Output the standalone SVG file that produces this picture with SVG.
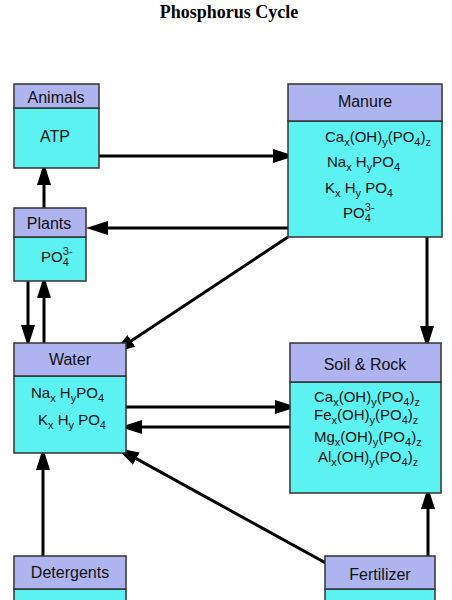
<svg xmlns="http://www.w3.org/2000/svg" width="452" height="600" viewBox="0 0 452 600">
<style>
.hd{fill:#aeb4f0;stroke:#333;stroke-width:1.5}
.bd{fill:#5cf2f2;stroke:#333;stroke-width:1.5}
.t{font-family:"Liberation Sans",Arial,sans-serif;font-size:16px;fill:#111}
.c{text-anchor:middle}
.f{font-family:"Liberation Sans",Arial,sans-serif;font-size:15px;fill:#111}
.s{font-size:11px}
.ln{stroke:#000;stroke-width:3;fill:none;marker-end:url(#ah)}
.title{font-family:"Liberation Serif","Times New Roman",serif;font-weight:bold;font-size:18px;text-anchor:middle;fill:#000}
</style>
<defs>
<marker id="ah" markerUnits="userSpaceOnUse" markerWidth="22" markerHeight="14" refX="14" refY="7" orient="auto">
<path d="M0,0 L22,7 L0,14 z" fill="#000"/>
</marker>
</defs>
<rect width="452" height="600" fill="#fff"/>
<text class="title" x="229" y="18">Phosphorus Cycle</text>

<g id="connectors">
<line class="ln" x1="99" y1="156" x2="287" y2="156"/>
<line class="ln" x1="288" y1="228" x2="94" y2="228"/>
<line class="ln" x1="288" y1="237" x2="119.7" y2="348.6"/>
<line class="ln" x1="427" y1="237" x2="427" y2="340"/>
<line class="ln" x1="44" y1="208" x2="44" y2="171"/>
<line class="ln" x1="28" y1="281" x2="28" y2="339"/>
<line class="ln" x1="44" y1="343" x2="44" y2="284"/>
<line class="ln" x1="126" y1="407" x2="289" y2="407"/>
<line class="ln" x1="290" y1="427" x2="128" y2="427"/>
<line class="ln" x1="333" y1="567" x2="124" y2="451.9"/>
<line class="ln" x1="43" y1="556" x2="43" y2="456"/>
<line class="ln" x1="428" y1="556" x2="428" y2="495"/>
</g>

<g id="animals">
<rect class="bd" x="14" y="108" width="85" height="60"/>
<rect class="hd" x="14" y="84" width="85" height="24"/>
<text class="t c" x="56" y="103">Animals</text>
<text class="t c" x="55" y="142">ATP</text>
</g>

<g id="plants">
<rect class="bd" x="14" y="237" width="72" height="44"/>
<rect class="hd" x="14" y="208" width="72" height="29"/>
<text class="t c" x="49" y="229">Plants</text>
<text class="f" x="41" y="262">PO<tspan class="s" dy="4">4</tspan><tspan class="s" dx="-6" dy="-11">3-</tspan></text>
</g>

<g id="manure">
<rect class="bd" x="288" y="121" width="154" height="116"/>
<rect class="hd" x="288" y="84" width="154" height="37"/>
<text class="t c" x="365" y="107">Manure</text>
<text class="f" x="325" y="142">Ca<tspan class="s" dy="4">x</tspan><tspan dy="-4">(OH)</tspan><tspan class="s" dy="4">y</tspan><tspan dy="-4">(PO</tspan><tspan class="s" dy="4">4</tspan><tspan dy="-4">)</tspan><tspan class="s" dy="4">z</tspan></text>
<text class="f" x="327" y="167">Na<tspan class="s" dy="4">x</tspan><tspan dy="-4"> H</tspan><tspan class="s" dy="4">y</tspan><tspan dy="-4">PO</tspan><tspan class="s" dy="4">4</tspan></text>
<text class="f" x="325" y="193">K<tspan class="s" dy="4">x</tspan><tspan dy="-4"> H</tspan><tspan class="s" dy="4">y</tspan><tspan dy="-4"> PO</tspan><tspan class="s" dy="4">4</tspan></text>
<text class="f" x="343" y="218">PO<tspan class="s" dy="4">4</tspan><tspan class="s" dx="-6" dy="-11">3-</tspan></text>
</g>

<g id="water">
<rect class="bd" x="14" y="376" width="112" height="77"/>
<rect class="hd" x="14" y="343" width="112" height="33"/>
<text class="t c" x="70" y="365">Water</text>
<text class="f" x="31" y="398">Na<tspan class="s" dy="4">x</tspan><tspan dy="-4"> H</tspan><tspan class="s" dy="4">y</tspan><tspan dy="-4">PO</tspan><tspan class="s" dy="4">4</tspan></text>
<text class="f" x="38" y="425">K<tspan class="s" dy="4">x</tspan><tspan dy="-4"> H</tspan><tspan class="s" dy="4">y</tspan><tspan dy="-4"> PO</tspan><tspan class="s" dy="4">4</tspan></text>
</g>

<g id="soil">
<rect class="bd" x="290" y="382" width="151" height="111"/>
<rect class="hd" x="290" y="343" width="151" height="39"/>
<text class="t c" x="365" y="370">Soil &amp; Rock</text>
<text class="f" x="314" y="402">Ca<tspan class="s" dy="4">x</tspan><tspan dy="-4">(OH)</tspan><tspan class="s" dy="4">y</tspan><tspan dy="-4">(PO</tspan><tspan class="s" dy="4">4</tspan><tspan dy="-4">)</tspan><tspan class="s" dy="4">z</tspan></text>
<text class="f" x="314" y="420">Fe<tspan class="s" dy="4">x</tspan><tspan dy="-4">(OH)</tspan><tspan class="s" dy="4">y</tspan><tspan dy="-4">(PO</tspan><tspan class="s" dy="4">4</tspan><tspan dy="-4">)</tspan><tspan class="s" dy="4">z</tspan></text>
<text class="f" x="314" y="442">Mg<tspan class="s" dy="4">x</tspan><tspan dy="-4">(OH)</tspan><tspan class="s" dy="4">y</tspan><tspan dy="-4">(PO</tspan><tspan class="s" dy="4">4</tspan><tspan dy="-4">)</tspan><tspan class="s" dy="4">z</tspan></text>
<text class="f" x="318" y="462">Al<tspan class="s" dy="4">x</tspan><tspan dy="-4">(OH)</tspan><tspan class="s" dy="4">y</tspan><tspan dy="-4">(PO</tspan><tspan class="s" dy="4">4</tspan><tspan dy="-4">)</tspan><tspan class="s" dy="4">z</tspan></text>
</g>

<g id="detergents">
<rect class="bd" x="14" y="589" width="112" height="20"/>
<rect class="hd" x="14" y="556" width="112" height="33"/>
<text class="t c" x="70" y="578">Detergents</text>
</g>

<g id="fertilizer">
<rect class="bd" x="325" y="589" width="110" height="20"/>
<rect class="hd" x="325" y="556" width="110" height="33"/>
<text class="t c" x="380" y="580">Fertilizer</text>
</g>
</svg>
